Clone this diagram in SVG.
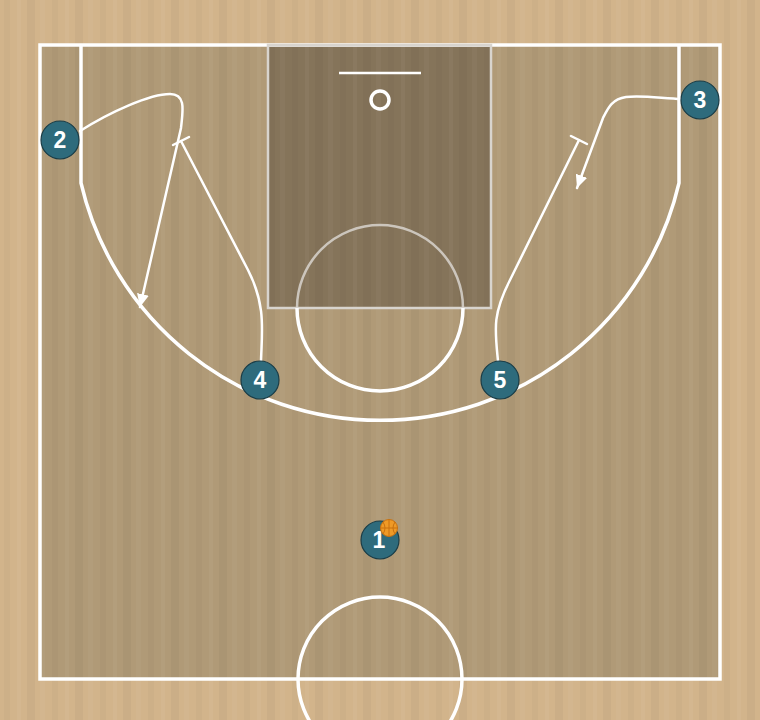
<svg xmlns="http://www.w3.org/2000/svg" width="760" height="720" viewBox="0 0 760 720">
  <defs>
    <pattern id="wood" x="0" y="0" width="48" height="720" patternUnits="userSpaceOnUse">
      <rect x="0" y="0" width="48" height="720" fill="#000" fill-opacity="0"/>
      <rect x="4" y="0" width="6" height="720" fill="#000" fill-opacity="0.025"/>
      <rect x="17" y="0" width="4" height="720" fill="#fff" fill-opacity="0.04"/>
      <rect x="27" y="0" width="8" height="720" fill="#000" fill-opacity="0.03"/>
      <rect x="40" y="0" width="5" height="720" fill="#fff" fill-opacity="0.03"/>
    </pattern>
    <marker id="arrow" markerUnits="userSpaceOnUse" markerWidth="14" markerHeight="12" refX="13" refY="6" orient="auto">
      <path d="M0,0 L13,6 L0,12 z" fill="#ffffff"/>
    </marker>
    <style>
      .line { fill: none; stroke: #ffffff; stroke-width: 3.5; }
      .paintline { fill: none; stroke: #d8d4ce; stroke-width: 2.5; }
      .move { fill: none; stroke: #ffffff; stroke-width: 2.5; stroke-linecap: round; }
      .player circle { fill: #2e6b7c; stroke: #1b3d47; stroke-width: 1.2; }
      .player text { fill: #ffffff; font-family: "Liberation Sans", Arial, sans-serif; font-weight: bold; font-size: 23px; text-anchor: middle; }
    </style>
  </defs>

  <!-- floor -->
  <rect x="0" y="0" width="760" height="720" fill="#d2b48b"/>
  <rect x="40" y="45" width="680" height="634" fill="#b09a77"/>
  <rect x="268" y="45" width="223" height="263" fill="#85745a"/>
  <rect x="0" y="0" width="760" height="720" fill="url(#wood)"/>

  <!-- court lines -->
  <g id="court">
    <rect x="40" y="45" width="680" height="634" class="line"/>
    <rect x="268" y="45" width="223" height="263" class="paintline"/>
    <path d="M297 308 A83 83 0 0 1 463 308" class="paintline" stroke-opacity="0.85"/>
    <path d="M297 308 A83 83 0 0 0 463 308" class="line"/>
    <path d="M81 45 L81 183 A307 307 0 0 0 679 183 L679 45" class="line"/>
    <line x1="339" y1="73" x2="421" y2="73" stroke="#ffffff" stroke-width="2.5"/>
    <circle cx="380" cy="100" r="9" fill="none" stroke="#ffffff" stroke-width="3.5"/>
    <circle cx="380" cy="679" r="82" class="line"/>
  </g>

  <!-- connectors -->
  <g id="connectors">
    <path id="cut2" class="move" d="M80 131 C110 112, 150 94, 170 94 C186 94, 183 110, 181 128 L140 307" marker-end="url(#arrow)"/>
    <path id="cut3" class="move" d="M682 99 C660 98, 640 95, 626 97 C612 99, 608 108, 603 118 L577 188" marker-end="url(#arrow)"/>
    <path id="screen4" class="move" d="M261 361 C262 330, 266 305, 248 270 L181 141"/>
    <line class="move" x1="173" y1="145" x2="189" y2="137"/>
    <path id="screen5" class="move" d="M498 361 C495 330, 492 315, 510 280 L579 140"/>
    <line class="move" x1="571" y1="136" x2="587" y2="144"/>
  </g>

  <!-- players -->
  <g id="player2" class="player">
    <circle cx="60" cy="140" r="19"/>
    <text x="60" y="148">2</text>
  </g>
  <g id="player3" class="player">
    <circle cx="700" cy="100" r="19"/>
    <text x="700" y="108">3</text>
  </g>
  <g id="player4" class="player">
    <circle cx="260" cy="380" r="19"/>
    <text x="260" y="388">4</text>
  </g>
  <g id="player5" class="player">
    <circle cx="500" cy="380" r="19"/>
    <text x="500" y="388">5</text>
  </g>
  <g id="player1" class="player">
    <circle cx="380" cy="540" r="19"/>
    <text x="379" y="548">1</text>
  </g>
  <g id="ball">
    <circle cx="389" cy="528" r="8.5" fill="#ef9a26" stroke="#c8710f" stroke-width="1"/>
    <path d="M380.5 528 L397.5 528 M389 519.5 L389 536.5 M383 522 Q387 528 383 534 M395 522 Q391 528 395 534" fill="none" stroke="#c8710f" stroke-width="1"/>
  </g>
</svg>
